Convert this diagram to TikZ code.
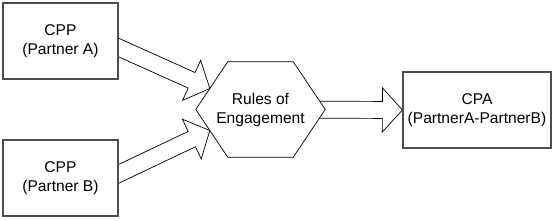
\documentclass[tikz,border=0pt]{standalone}
\usepackage{fontspec}
\setmainfont{Liberation Sans}
\usetikzlibrary{calc,backgrounds}

\newcommand{\shaftw}{0.255cm}
\newcommand{\headw}{0.66cm}
\newcommand{\headl}{0.6cm}
% open block arrow from #1 to #2
\newcommand{\blockarrow}[2]{%
  \draw[arrowline] ($(#1)!\shaftw!90:(#2)$)
    -- ($($(#2)!\headl!(#1)$)!\shaftw!90:(#2)$)
    -- ($($(#2)!\headl!(#1)$)!\headw!90:(#2)$)
    -- (#2)
    -- ($($(#2)!\headl!(#1)$)!\headw!-90:(#2)$)
    -- ($($(#2)!\headl!(#1)$)!\shaftw!-90:(#2)$)
    -- ($(#1)!\shaftw!-90:(#2)$) -- cycle;}

\begin{document}
\begin{tikzpicture}[font=\fontsize{13.3}{16.2}\selectfont,
    box/.style = {draw=black!70, line width=1pt, fill=white, align=center,
                  minimum width=3.45cm, minimum height=2.28cm},
    arrowline/.style = {draw=black, line width=0.6pt, fill=white}]
  \useasboundingbox (0,0) rectangle (16.62,6.6);

  \node[box] (cppa) at (1.815,5.37) {CPP\\(Partner A)};
  \node[box] (cppb) at (1.815,1.26) {CPP\\(Partner B)};
  \node[align=center, minimum width=3.87cm, minimum height=2.85cm] (rules) at (7.815,3.315) {Rules of\\Engagement};
  \node[box, minimum width=4.44cm] (cpa) at (14.31,3.3) {CPA\\(PartnerA-PartnerB)};

  % hexagon corners
  \coordinate (nw) at ([xshift=0.96cm]rules.north west);
  \coordinate (ne) at ([xshift=-0.96cm]rules.north east);
  \coordinate (se) at ([xshift=-0.96cm]rules.south east);
  \coordinate (sw) at ([xshift=0.96cm]rules.south west);

  \coordinate (taila) at ([shift={(-0.3,-0.06)}]cppa.east);
  \coordinate (tailb) at ([shift={(-0.3,-0.02)}]cppb.east);
  \coordinate (tipa) at ($(rules.west)!0.44!(nw)$);
  \coordinate (tipb) at ($(rules.west)!0.44!(sw)$);

  \begin{scope}[on background layer]
    \blockarrow{taila}{tipa}
    \blockarrow{tailb}{tipb}
    \blockarrow{rules.center}{cpa.west}
    \draw[arrowline] (rules.west) -- (nw) -- (ne) -- (rules.east) -- (se) -- (sw) -- cycle;
  \end{scope}
\end{tikzpicture}
\end{document}
